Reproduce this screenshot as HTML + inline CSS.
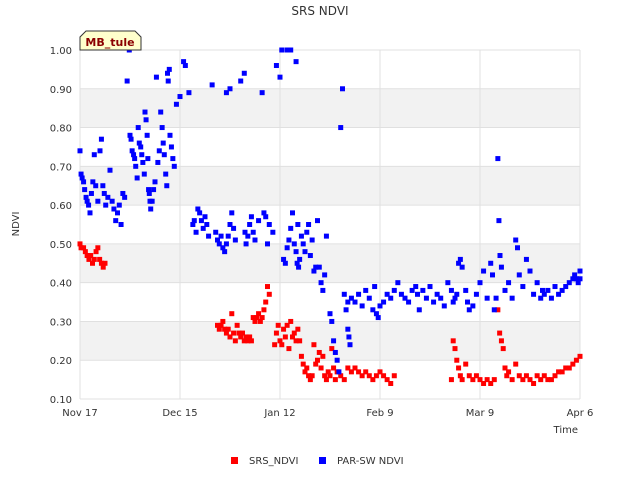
<!DOCTYPE html>
<html><head><meta charset="utf-8"><style>
body{margin:0;background:#fff;font-family:"Liberation Sans",sans-serif}
svg text{font-family:"DejaVu Sans","Liberation Sans",sans-serif}
</style></head><body>
<svg id="c" width="640" height="480" xmlns="http://www.w3.org/2000/svg">
<g id="bands"></g><g id="grid"></g>
<text x="320" y="15" text-anchor="middle" font-size="12" fill="#333">SRS NDVI</text>
<text transform="translate(19,224) rotate(-90)" text-anchor="middle" font-size="10" fill="#333">NDVI</text>
<text x="578" y="433" text-anchor="end" font-size="10" fill="#333">Time</text>
<g id="ticks"></g><g id="marks"></g>
<g>
<path d="M86,31 H135 L141,37 V50 H80 V37 Z" fill="#ffffcc" stroke="#333" stroke-width="1"/>
<text x="110" y="46" text-anchor="middle" font-size="11" font-weight="bold" fill="#8b0000">MB_tule</text></g>
<g>
<g><rect x="231" y="457" width="7" height="7" fill="#f00"/><text x="249" y="464" font-size="10" fill="#333">SRS_NDVI</text></g>
<g><rect x="319" y="457" width="7" height="7" fill="#00f"/><text x="337" y="464" font-size="10" fill="#333">PAR-SW NDVI</text></g>
</g>
</svg>
<script>
const yTicks=[0.10,0.20,0.30,0.40,0.50,0.60,0.70,0.80,0.90,1.00];
const xTickDays=[0,28,56,84,112,140];
const xTickLabels=["Nov 17","Dec 15","Jan 12","Feb 9","Mar 9","Apr 6"];
const srsDays=[0,0.3,1,1.5,2,2.5,3,3.5,4,4.5,5,5.5,6,6.5,7,
38.5,39,39.5,40,40.5,41,41.5,42,42.5,43,43.5,44,44.5,45,45.5,46,46.5,47,47.5,48,
48.5,49,49.5,50,50.5,51,51.5,52,52.5,53,
54.5,55,55.5,56,56.5,57,57.5,58,58.5,59,59.5,60,60.5,61,
61.5,62,62.5,63,63.5,64,64.5,65,65.5,66,66.5,67,67.5,68,68.5,69,69.5,70,70.5,71,71.5,72,73,74,
75,76,77,78,79,80,81,82,83,84,85,86,87,88,
104,104.5,105,105.5,106,106.5,107,108,109,110,111,112,113,114,115,116,
117,117.5,118,118.5,119,119.5,120,121,122,123,124,125,126,127,128,129,130,131,132,133,134,135,136,137,138,139,140];
const srsVals=[.50,.49,.49,.48,.47,.46,.47,.45,.46,.48,.49,.46,.45,.44,.45,
.29,.28,.29,.30,.28,.27,.28,.26,.32,.27,.25,.29,.27,.26,.27,.25,.26,.25,.26,.25,
.31,.30,.31,.32,.30,.31,.33,.35,.39,.37,
.24,.27,.29,.25,.24,.28,.26,.29,.23,.30,.26,.27,.25,.28,
.25,.21,.19,.17,.18,.16,.15,.16,.24,.19,.20,.22,.18,.21,.16,.15,.17,.16,.23,.18,.15,.17,.16,.15,
.18,.17,.18,.17,.16,.17,.16,.15,.16,.17,.16,.15,.14,.16,
.15,.25,.23,.20,.18,.16,.15,.19,.16,.15,.16,.15,.14,.15,.14,.15,
.33,.27,.25,.23,.18,.16,.17,.15,.19,.16,.15,.16,.15,.14,.16,.15,.16,.15,.15,.16,.17,.17,.18,.18,.19,.20,.21];
const parDays=[0,0.3,0.6,1,1.3,1.7,2,2.4,2.8,3.2,3.6,4,4.4,5,
5.6,6,6.4,6.8,7.2,7.8,
8.4,9,9.5,10,10.5,11,11.5,12,12.5,13.2,13.8,
14,14.3,14.6,15,15.3,15.6,16,16.3,16.6,17,17.3,17.6,18,18.2,18.5,18.8,19,19.2,19.4,19.6,
19.8,20.2,20.6,21,21.4,21.8,22.2,22.6,23,23.3,23.6,24,24.3,24.5,24.7,25,
25.2,25.6,26,26.4,27,28,29,29.5,30.5,
31.6,32,32.5,33,33.5,34,34.5,35,35.5,36,37,
38,38.5,39,39.5,40,40.5,41,41.5,42,42.5,43,43.5,41,42,45,46,46.2,
46.5,47,47.5,48,48.5,49,50,51,51.5,52,52.5,53,54,
55,56,56.5,57,57.5,58,58.5,59,59.5,60,60.5,61,58,59,60.5,60.8,61.2,61.5,
62,62.5,63,63.5,64,64.5,65,65.5,66,66.5,67,67.5,68,68.5,69,
70,70.5,71,71.5,72,72.5,73,73.5,74,74.5,75,75.3,75.6,75,
76,77,78,79,80,81,82,82.5,
83,83.5,84,85,86,87,88,89,90,91,92,93,94,94.5,95,
96,97,98,99,100,101,102,103,104,104.5,105,105.5,106,
106.5,107,108,108.5,109,110,111,112,113,114,115,115.5,116,116.5,117,117.3,117.6,
118,119,120,121,122,122.5,123,124,125,126,127,128,129,129.5,
130,131,132,133,134,135,136,137,138,138.5,139,139.5,140,140];
const parVals=[.74,.68,.67,.66,.64,.62,.61,.60,.58,.63,.66,.73,.65,.61,
.74,.77,.65,.63,.60,.62,
.69,.61,.59,.56,.58,.60,.55,.63,.62,.92,1.0,
.78,.77,.74,.73,.72,.70,.67,.80,.76,.75,.73,.71,.68,.84,.82,.78,.72,.64,.63,.61,
.59,.61,.64,.66,.93,.71,.74,.84,.80,.76,.73,.68,.65,.94,.92,.95,
.78,.75,.72,.70,.86,.88,.97,.96,.89,
.55,.56,.53,.59,.58,.56,.54,.57,.55,.52,.91,
.53,.51,.50,.52,.49,.48,.50,.52,.55,.58,.54,.51,.89,.90,.92,.94,.53,
.50,.52,.55,.57,.53,.51,.56,.89,.58,.57,.50,.55,.53,
.96,.93,1.0,.46,.45,.49,.51,.54,.58,.50,.48,.55,1.0,1.0,.97,.45,.44,.46,
.52,.50,.48,.53,.55,.47,.51,.43,.44,.56,.44,.40,.38,.42,.52,
.32,.30,.25,.22,.20,.17,.80,.90,.37,.33,.28,.26,.24,.35,
.36,.35,.37,.34,.38,.36,.33,.39,
.32,.31,.34,.35,.37,.36,.38,.40,.37,.36,.35,.38,.39,.37,.33,
.38,.36,.39,.35,.37,.36,.34,.40,.38,.35,.36,.37,.45,
.46,.44,.38,.35,.33,.34,.37,.40,.43,.36,.45,.42,.33,.36,.72,.56,.47,
.44,.38,.40,.36,.51,.49,.42,.39,.46,.43,.37,.40,.36,.38,
.37,.38,.36,.39,.37,.38,.39,.40,.41,.42,.41,.40,.43,.41];
const X0=80,X1=580,Y0=399,Y1=50,DMAX=140;
const xs=d=>X0+(d/DMAX)*(X1-X0);
const ys=v=>Y0-(v-0.1)/0.9*(Y0-Y1);
const NS="http://www.w3.org/2000/svg";
function mk(tag,parent,attrs){const e=document.createElementNS(NS,tag);for(const k in attrs)e.setAttribute(k,attrs[k]);document.getElementById(parent).appendChild(e);return e;}
for(let i=0;i<yTicks.length-1;i++){
  if(i%2===1){const b=mk('rect','bands',{x:X0,y:ys(yTicks[i+1]),width:X1-X0,height:ys(yTicks[i])-ys(yTicks[i+1]),fill:'#f2f2f2'});
  
  }
}
yTicks.forEach(v=>{
  const l=mk('line','grid',{x1:X0,x2:X1,y1:ys(v),y2:ys(v),stroke:'#e0e0e0'});
  
  
  const t=mk('text','ticks',{x:X0-8,y:ys(v)+4,'text-anchor':'end','font-size':'10',fill:'#333'});
  t.textContent=v.toFixed(2);
  
  
});
xTickDays.forEach((d,i)=>{
  const l=mk('line','grid',{x1:xs(d),x2:xs(d),y1:Y1,y2:Y0,stroke:'#e0e0e0'});
  
  
  const t=mk('text','ticks',{x:xs(d),y:Y0+17,'text-anchor':'middle','font-size':'10',fill:'#333'});
  t.textContent=xTickLabels[i];
  
  
});
srsDays.forEach((d,i)=>{
  const r=mk('rect','marks',{x:xs(d)-2.5,y:ys(srsVals[i])-2.5,width:5,height:5,fill:'#f00'});
  
  
});
parDays.forEach((d,i)=>{
  if(parVals[i]===undefined)return;
  const r=mk('rect','marks',{x:xs(d)-2.5,y:ys(parVals[i])-2.5,width:5,height:5,fill:'#00f'});
  
  
});
</script>
</body></html>
